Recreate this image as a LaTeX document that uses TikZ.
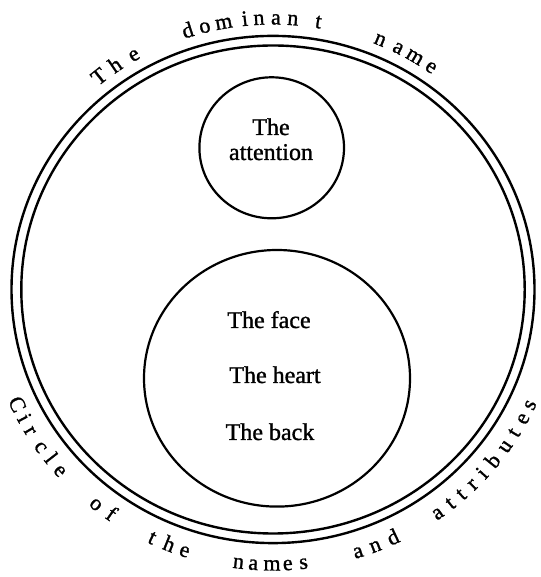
\documentclass[tikz,border=0pt]{standalone}
\usepackage{fontspec}
\setmainfont[FakeBold=1.2]{Liberation Serif}
\tikzset{
  ring/.style={line width=2.4pt},
  disc/.style={line width=2.2pt},
  arcletter/.style={font=\fontsize{22}{22}\selectfont, inner sep=0pt, anchor=base},
  labeltext/.style={font=\fontsize{24}{26}\selectfont, inner sep=0pt, anchor=base},
}
\begin{document}
\begin{tikzpicture}[x=1pt,y=1pt]
\useasboundingbox (0,0) rectangle (540,577);
\coordinate (O) at (273,287.5);
\coordinate (S) at (271.7,429.2);
\coordinate (B) at (277,198.7);
% outer double ring
\draw[ring] (O) ellipse [x radius=261.5, y radius=253.6];
\draw[ring] (O) ellipse [x radius=251.7, y radius=244];
% inner circles
\draw[disc] (S) ellipse [x radius=72.3, y radius=70.5];
\draw[disc] (B) ellipse [x radius=133, y radius=128.3];
% texts
\node[labeltext] (att1) at (271,442) {The};
\node[labeltext] (att2) at (271,417) {attention};
\node[labeltext] (face) at (269,249) {The face};
\node[labeltext] (heart) at (275,194) {The heart};
\node[labeltext] (back) at (270,137) {The back};
% top arc text
\foreach \ch/\a [count=\i] in {T/128.5, h/124.4, e/120.0,
    d/107.8, o/104.2, m/100.2, i/95.8, n/92.9, a/89.4, n/85.9, t/80.6,
    n/67.3, a/63.2, m/59.3, e/55.3}
  \node[arcletter, rotate=\a-90] (top\i) at ({273+1.0275*265*cos(\a)}, {287.5+265*sin(\a)}) {\ch};
% bottom arc text
\foreach \ch/\a [count=\i] in {C/204.8, i/208.0, r/210.9, c/214.9, l/218.0, e/221.2,
    o/231.3, f/235.0,
    t/244.7, h/248.4, e/251.8,
    n/263.0, a/266.0, m/269.8, e/273.0, s/276.2,
    a/287.5, n/291.2, d/295.2,
    a/305.6, t/308.9, t/311.8, r/314.9, i/317.9, b/321.3, u/325.2, t/328.6, e/332.0, s/335.2}
  \node[arcletter, rotate=\a+90] (bot\i) at ({273+1.0275*281*cos(\a)}, {287.5+281*sin(\a)}) {\ch};
\end{tikzpicture}
\end{document}
